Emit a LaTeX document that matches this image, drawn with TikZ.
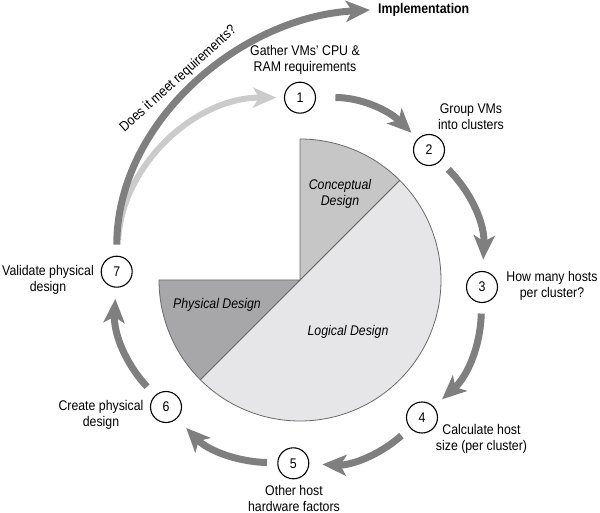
\documentclass[tikz,border=0pt]{standalone}
\usepackage{fontspec}
\setmainfont{Liberation Sans}[FakeStretch=0.88]
\usetikzlibrary{arrows.meta}
\definecolor{arrowgray}{HTML}{7F7F80}
\definecolor{lightarrowgray}{HTML}{CBCBCC}
\definecolor{conceptfill}{HTML}{C6C6C7}
\definecolor{logicfill}{HTML}{E6E6E8}
\definecolor{physfill}{HTML}{A7A7A9}
\definecolor{pieline}{HTML}{6A6A6A}
\begin{document}
\begin{tikzpicture}[x=1pt,y=-1pt,
  txt/.style={font=\fontsize{14}{16}\selectfont, align=center, inner sep=0pt},
  stepcircle/.style={circle, draw=black, line width=1.1pt, minimum size=31pt, inner sep=0pt, font=\fontsize{14}{16}\selectfont, fill=white},
  bigarrow/.style={draw=arrowgray, line width=7pt, -{Stealth[length=24pt,width=21pt,inset=6pt]}},
  lightarrow/.style={draw=lightarrowgray, line width=6pt, -{Stealth[length=23pt,width=20pt,inset=6pt]}},
  slice/.style={draw=pieline, line width=0.8pt}]
\useasboundingbox (0,0) rectangle (600,513);

% pie
\coordinate (ctr) at (300,280);
\filldraw[slice, fill=logicfill] (ctr) -- ++(-45:141) arc[start angle=-45, end angle=135, radius=141] -- cycle;
\filldraw[slice, fill=conceptfill] (ctr) -- ++(-90:141) arc[start angle=-90, end angle=-45, radius=141] -- cycle;
\filldraw[slice, fill=physfill] (ctr) -- ++(135:141) arc[start angle=135, end angle=180, radius=141] -- cycle;

\node[txt, font=\fontsize{14}{16}\selectfont\itshape] (concept) at (340,194) {Conceptual\\Design};
\node[txt, font=\fontsize{14}{16}\selectfont\itshape] (phys) at (217,305) {Physical Design};
\node[txt, font=\fontsize{14}{16}\selectfont\itshape] (logic) at (348,332) {Logical Design};

% step circles
\node[stepcircle] (c1) at (300,97.7) {1};
\node[stepcircle] (c2) at (429,150) {2};
\node[stepcircle] (c3) at (482,287) {3};
\node[stepcircle] (c4) at (422,417.5) {4};
\node[stepcircle] (c5) at (293.3,463.3) {5};
\node[stepcircle] (c6) at (166,407) {6};
\node[stepcircle] (c7) at (116.7,271.7) {7};

% labels
\node[txt] (l1) at (305,60) {Gather VMs’ CPU \&\\RAM requirements};
\node[txt] (l2) at (471,117) {Group VMs\\into clusters};
\node[txt] (l3) at (552,286) {How many hosts\\per cluster?};
\node[txt] (l4) at (481.5,439) {Calculate host\\size (per cluster)};
\node[txt] (l5) at (294,498.5) {Other host\\hardware factors};
\node[txt] (l6) at (101,414.5) {Create physical\\design};
\node[txt] (l7) at (48,279.5) {Validate physical\\design};

% arrows
\draw[lightarrow, shorten <=16pt, shorten >=7.8pt] (c7) to[bend left=43.7] (c1);
\draw[bigarrow, shorten <=19.4pt, shorten >=8.5pt] (c1) to[bend left=22.4] (c2);
\draw[bigarrow, shorten <=11.2pt, shorten >=11.5pt] (c2) to[bend left=23.7] (c3);
\draw[bigarrow, shorten <=10.5pt, shorten >=11pt] (c3) to[bend left=23.1] (c4);
\draw[bigarrow, shorten <=11.4pt, shorten >=13pt] (c4) to[bend left=21.8] (c5);
\draw[bigarrow, shorten <=10.2pt, shorten >=13pt] (c5) to[bend left=22.2] (c6);
\draw[bigarrow, shorten <=11.7pt, shorten >=11pt] (c6) to[bend left=23] (c7);

\coordinate (tipimpl) at (370,10);
\node[txt, font=\fontsize{14}{16}\selectfont\bfseries, anchor=base west] (impl) at (378,14) {Implementation};
\draw[bigarrow, shorten <=11pt] (c7) .. controls (117,122) and (240,17) .. (tipimpl);

\node[txt, rotate=42, anchor=base] (question) at (180.8,81.7) {Does it meet requirements?};
\end{tikzpicture}
\end{document}
